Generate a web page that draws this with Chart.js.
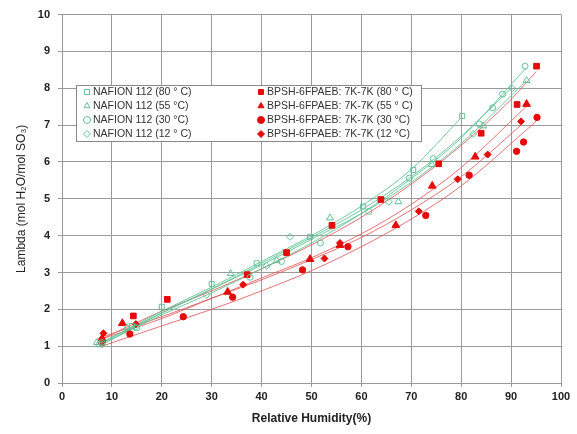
<!DOCTYPE html>
<html>
<head>
<meta charset="utf-8">
<script src="https://cdn.jsdelivr.net/npm/chart.js@4.4.1/dist/chart.umd.min.js"></script>
<style>
  html, body { margin: 0; padding: 0; background: #fff; }
  #wrap { width: 577px; height: 434px; position: relative; }
</style>
</head>
<body>
<div id="wrap"><canvas id="chart" width="577" height="434"></canvas></div>
<script>
var naf80X = [7.5, 14, 20, 30, 39, 49.7, 60.3, 70.4, 80.2];
var naf80Y = [1.05, 1.55, 2.07, 2.69, 3.25, 3.97, 4.79, 5.78, 7.25];
var naf55X = [7, 13, 33.8, 43, 53.7, 67.4, 74.1, 84.4, 93.1];
var naf55Y = [1.1, 1.5, 2.97, 3.32, 4.48, 4.92, 5.93, 6.98, 8.21];
var naf30X = [8, 15, 37.7, 44, 51.8, 61.5, 69.6, 74.4, 83.6, 86.3, 88.3, 92.8];
var naf30Y = [1.1, 1.5, 2.87, 3.3, 3.8, 4.66, 5.56, 6.09, 7.03, 7.47, 7.84, 8.6];
var naf12X = [8, 14.6, 29, 41, 45.7, 65.5, 82.4, 90.2];
var naf12Y = [1.05, 1.51, 2.39, 3.18, 3.97, 4.92, 6.76, 8.0];

var bp80X = [8, 14.3, 21.1, 37.1, 45, 54.1, 63.9, 75.5, 84, 91.2, 95.1];
var bp80Y = [1.15, 1.82, 2.27, 2.94, 3.54, 4.28, 4.98, 5.95, 6.78, 7.56, 8.6];
var bp55X = [8, 12.1, 33.2, 49.7, 55.7, 66.9, 74.2, 82.8, 93.1];
var bp55Y = [1.2, 1.62, 2.47, 3.36, 3.74, 4.28, 5.35, 6.14, 7.57];
var bp30X = [8, 13.6, 24.3, 34.2, 48.2, 57.3, 72.9, 81.6, 91.1, 92.5, 95.2];
var bp30Y = [1.1, 1.33, 1.8, 2.33, 3.07, 3.7, 4.55, 5.64, 6.29, 6.54, 7.21];
var bp12X = [8.3, 14.8, 36.3, 52.6, 55.7, 71.5, 79.3, 85.3, 92];
var bp12Y = [1.35, 1.6, 2.67, 3.38, 3.8, 4.66, 5.53, 6.2, 7.1];

// trend curves, also
var naf80TrendX = [7.5, 20, 30, 40, 50, 60, 70, 80];
var naf80TrendY = [1.05, 1.95, 2.6, 3.3, 4.0, 4.8, 5.8, 7.2];
var naf55TrendX = [7, 20, 30, 40, 50, 60, 70, 80, 93];
var naf55TrendY = [1.05, 1.9, 2.55, 3.2, 3.9, 4.6, 5.45, 6.5, 8.2];
var naf30TrendX = [8, 20, 30, 40, 50, 60, 70, 80, 93];
var naf30TrendY = [1.05, 1.85, 2.45, 3.1, 3.8, 4.6, 5.55, 6.65, 8.55];
var naf12TrendX = [8, 20, 30, 40, 50, 60, 70, 80, 90];
var naf12TrendY = [1.05, 1.9, 2.55, 3.25, 3.95, 4.7, 5.6, 6.7, 8.0];

var bp80TrendX = [8, 20, 30, 40, 50, 60, 70, 80, 90, 95];
var bp80TrendY = [1.2, 1.95, 2.5, 3.1, 3.75, 4.5, 5.4, 6.45, 7.7, 8.45];
var bp55TrendX = [8, 20, 30, 40, 50, 60, 70, 80, 93];
var bp55TrendY = [1.2, 1.75, 2.3, 2.85, 3.4, 4.05, 4.85, 5.85, 7.5];
var bp30TrendX = [8, 20, 30, 40, 50, 60, 70, 80, 95];
var bp30TrendY = [1.0, 1.55, 2.0, 2.5, 3.05, 3.7, 4.45, 5.35, 7.1];
var bp12TrendX = [8, 20, 30, 40, 50, 60, 70, 80, 92];
var bp12TrendY = [1.25, 1.8, 2.3, 2.8, 3.35, 3.95, 4.7, 5.6, 7.0];

var xTicks = [0, 10, 20, 30, 40, 50, 60, 70, 80, 90, 100];
var yTicks = [0, 1, 2, 3, 4, 5, 6, 7, 8, 9, 10];

var legendLabels = [
    'NAFION 112 (80 ° C)', 'NAFION 112 (55 °C)', 'NAFION 112 (30 °C)', 'NAFION 112 (12 ° C)',
    'BPSH-6FPAEB: 7K-7K (80 ° C)', 'BPSH-6FPAEB: 7K-7K (55 ° C)', 'BPSH-6FPAEB: 7K-7K (30 °C)', 'BPSH-6FPAEB: 7K-7K (12 °C)'
];

var GREEN = 'rgb(95,195,150)';
var GREEN_LINE = 'rgba(95,195,150,0.9)';
var RED = 'rgb(230,10,10)';
var RED_LINE = 'rgba(225,90,90,0.85)';
var FONT = 'Arial, "Liberation Sans", sans-serif';

function pts(xs, ys) {
    var out = [];
    for (var i = 0; i < xs.length; i++) {
        out.push({x: xs[i], y: ys[i]});
    }
    return out;
}

function markers(label, xs, ys, style, radius, filled) {
    return {
        label: label,
        data: pts(xs, ys),
        showLine: false,
        pointStyle: style,
        pointRadius: radius,
        pointBorderWidth: 1,
        pointBorderColor: filled ? RED : GREEN,
        pointBackgroundColor: filled ? RED : 'rgba(255,255,255,0)'
    };
}

function trend(xs, ys, filled) {
    return {
        label: '',
        data: pts(xs, ys),
        showLine: true,
        cubicInterpolationMode: 'monotone',
        borderWidth: 1,
        borderColor: filled ? RED_LINE : GREEN_LINE,
        pointRadius: 0
    };
}

var datasets = [
    markers(legendLabels[0], naf80X, naf80Y, 'rect', 3.5, false),
    markers(legendLabels[1], naf55X, naf55Y, 'triangle', 4, false),
    markers(legendLabels[2], naf30X, naf30Y, 'circle', 3, false),
    markers(legendLabels[3], naf12X, naf12Y, 'rectRot', 3.5, false),
    markers(legendLabels[4], bp80X, bp80Y, 'rect', 4, true),
    markers(legendLabels[5], bp55X, bp55Y, 'triangle', 4.5, true),
    markers(legendLabels[6], bp30X, bp30Y, 'circle', 3.2, true),
    markers(legendLabels[7], bp12X, bp12Y, 'rectRot', 3.5, true),
    trend(naf80TrendX, naf80TrendY, false),
    trend(naf55TrendX, naf55TrendY, false),
    trend(naf30TrendX, naf30TrendY, false),
    trend(naf12TrendX, naf12TrendY, false),
    trend(bp80TrendX, bp80TrendY, true),
    trend(bp55TrendX, bp55TrendY, true),
    trend(bp30TrendX, bp30TrendY, true),
    trend(bp12TrendX, bp12TrendY, true)
];

// two column legend box drawn inside the plot
var boxLegend = {
    id: 'boxLegend',
    afterDraw: function (chart) {
        var ctx = chart.ctx;
        ctx.save();
        ctx.fillStyle = '#fff';
        ctx.fillRect(76.5, 85.5, 345, 56);
        ctx.strokeStyle = '#888';
        ctx.lineWidth = 1;
        ctx.strokeRect(76.5, 85.5, 345, 56);
        ctx.font = '10.5px ' + FONT;
        ctx.textBaseline = 'middle';
        var rows = [92, 106, 120, 134];
        for (var i = 0; i < 8; i++) {
            var ds = chart.data.datasets[i];
            var col = i < 4 ? 0 : 1;
            var mx = col === 0 ? 87 : 261;
            var y = rows[i % 4];
            ctx.fillStyle = ds.pointBackgroundColor;
            ctx.strokeStyle = ds.pointBorderColor;
            ctx.lineWidth = 1;
            Chart.helpers.drawPoint(ctx, {
                pointStyle: ds.pointStyle,
                radius: 3.5,
                rotation: 0,
                borderWidth: 1
            }, mx, y);
            ctx.fillStyle = '#333';
            ctx.fillText(ds.label, mx + 6, y + 0.5);
        }
        ctx.restore();
    }
};

new Chart(document.getElementById('chart'), {
    type: 'scatter',
    data: {datasets: datasets},
    plugins: [boxLegend],
    options: {
        responsive: false,
        animation: false,
        layout: {padding: {top: 10, right: 16, left: 0, bottom: 0}},
        plugins: {
            legend: {display: false},
            tooltip: {enabled: false}
        },
        scales: {
            x: {
                type: 'linear',
                min: 0,
                max: 100,
                afterBuildTicks: function (axis) {
                    axis.ticks = xTicks.map(function (v) { return {value: v}; });
                },
                afterFit: function (axis) { axis.height = 51; },
                border: {color: '#999', width: 1},
                grid: {color: '#9a9a9a', lineWidth: 1, tickLength: 4},
                ticks: {
                    color: '#222',
                    padding: 3,
                    maxRotation: 0,
                    font: {family: FONT, size: 11, weight: 'bold'}
                },
                title: {
                    display: true,
                    text: 'Relative Humidity(%)',
                    color: '#222',
                    padding: {top: 4, bottom: 8},
                    font: {family: FONT, size: 12, weight: 'bold'}
                }
            },
            y: {
                min: 0,
                max: 10,
                afterBuildTicks: function (axis) {
                    axis.ticks = yTicks.map(function (v) { return {value: v}; });
                },
                afterFit: function (axis) { axis.width = 62; },
                border: {color: '#999', width: 1},
                grid: {color: '#9a9a9a', lineWidth: 1, tickLength: 4},
                ticks: {
                    color: '#222',
                    padding: 8,
                    font: {family: FONT, size: 11, weight: 'bold'}
                },
                title: {
                    display: true,
                    text: 'Lambda (mol H₂O/mol SO₃)',
                    color: '#222',
                    padding: {top: 14, bottom: 0},
                    font: {family: FONT, size: 12}
                }
            }
        }
    }
});
</script>
</body>
</html>
